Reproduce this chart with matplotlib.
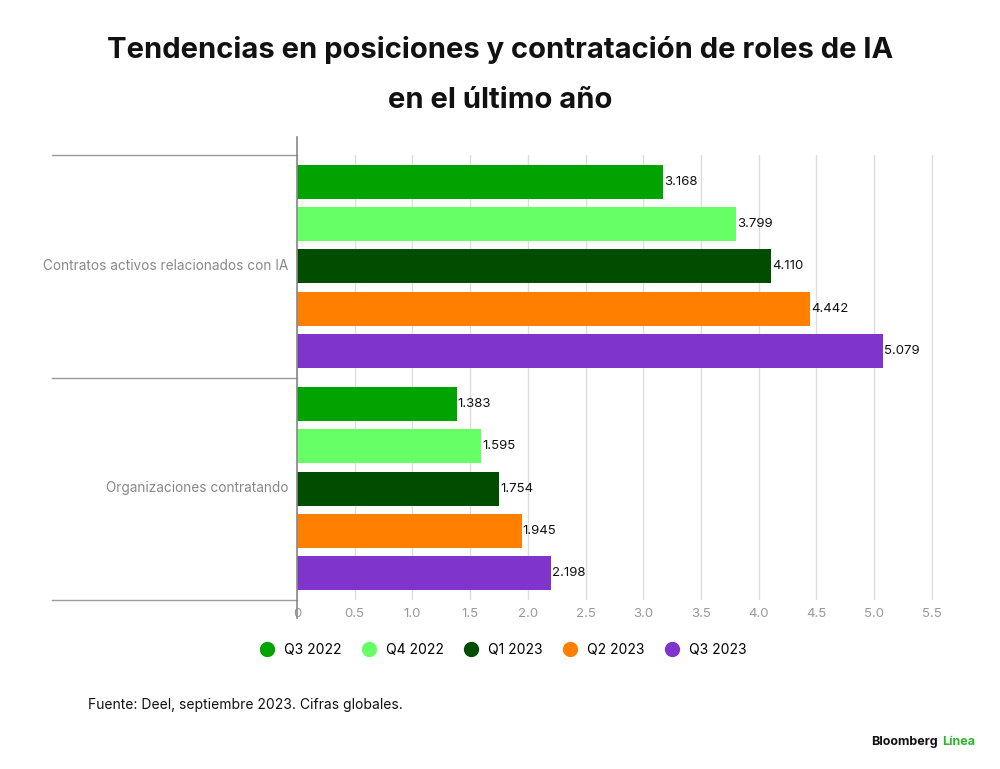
import matplotlib
matplotlib.use("Agg")
import matplotlib.pyplot as plt
from matplotlib.lines import Line2D
import numpy as np

categories = ["Contratos activos relacionados con IA", "Organizaciones contratando"]
series = ["Q3 2022", "Q4 2022", "Q1 2023", "Q2 2023", "Q3 2023"]
values = [[3.168, 1.383], [3.799, 1.595], [4.110, 1.754], [4.442, 1.945], [5.079, 2.198]]
labels = [["3.168", "1.383"], ["3.799", "1.595"], ["4.110", "1.754"], ["4.442", "1.945"], ["5.079", "2.198"]]
colors = ["#00a300", "#66ff66", "#004d00", "#ff8000", "#7f35cc"]
ticks = [0, 0.5, 1.0, 1.5, 2.0, 2.5, 3.0, 3.5, 4.0, 4.5, 5.0, 5.5]
ticklabels = ["0", "0.5", "1.0", "1.5", "2.0", "2.5", "3.0", "3.5", "4.0", "4.5", "5.0", "5.5"]

plt.rcParams['font.family'] = ['Inter', 'DejaVu Sans']
fig = plt.figure(figsize=(10, 7.69), dpi=100)
ax = fig.add_axes([0.297, 1 - 600/769, 0.643, 445/769])
y = np.arange(len(categories))
for i, s in enumerate(series):
    pos = y + (i - 2) * 0.19
    ax.barh(pos, values[i], height=0.153, color=colors[i], label=s, zorder=3)
    for p, v, t in zip(pos, values[i], labels[i]):
        ax.text(v + 0.01, p, t, va="center", ha="left", fontsize=9.5, color="#111111")
ax.set_ylim(1.5, -0.5)
ax.set_xlim(0, 5.57)
ax.set_xticks(ticks)
ax.set_xticklabels(ticklabels, color="#999999", fontsize=9.5)
ax.set_yticks([])
ax.grid(axis="x", color="#dddddd", lw=1, zorder=0)
for sp in ax.spines.values():
    sp.set_visible(False)
ax.tick_params(axis="x", length=0, pad=6)
for yy in [155, 378, 600]:
    fig.add_artist(Line2D([52/1000, 297/1000], [1 - yy/769]*2, color="#999999", lw=1))
fig.add_artist(Line2D([297/1000]*2, [1 - 137/769, 1 - 618/769], color="#888888", lw=1.2))
for c, yy in zip(categories, [266, 488]):
    fig.text(288/1000, 1 - yy/769, c, ha="right", va="center", fontsize=9.8, color="#888888")

fig.text(0.5, 1 - 50/769, "Tendencias en posiciones y contratación de roles de IA", ha="center", va="center",
         fontsize=21, fontweight="bold", color="#111111")
fig.text(0.5, 1 - 100/769, "en el último año", ha="center", va="center",
         fontsize=21, fontweight="bold", color="#111111")
fig.legend(handles=[Line2D([], [], marker="o", ls="", color=c, markersize=10) for c in colors],
           labels=series, loc="center", bbox_to_anchor=(0.5, 1 - 650/769), ncol=5, frameon=False,
           fontsize=10, handletextpad=0.2, columnspacing=1.0)
fig.text(88/1000, 1 - 705/769, "Fuente: Deel, septiembre 2023. Cifras globales.", ha="left", va="center",
         fontsize=10, color="#111111")
fig.text(0.938, 1 - 742/769, "Bloomberg", ha="right", va="center", fontsize=9, fontweight="bold", color="#111111")
fig.text(0.942, 1 - 742/769, "Línea", ha="left", va="center", fontsize=9, fontweight="bold", color="#2db52d")
fig.savefig("out.png", dpi=100, facecolor="white")
